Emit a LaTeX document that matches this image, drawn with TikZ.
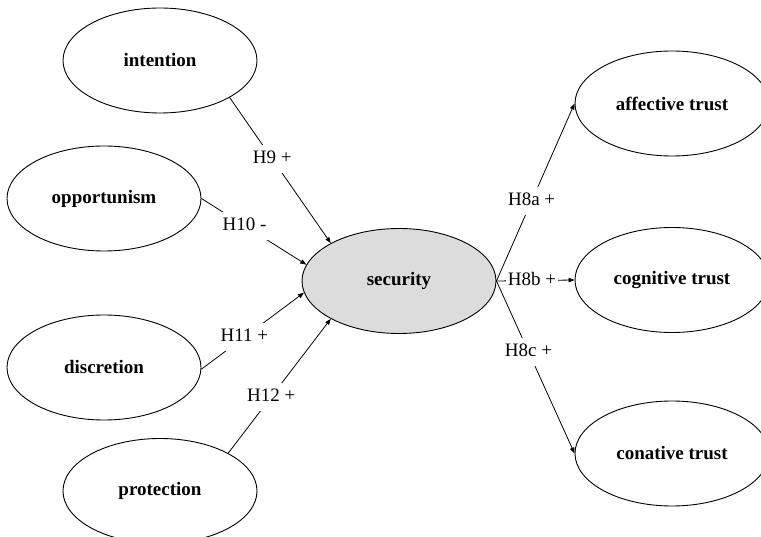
\documentclass[tikz,border=0pt]{standalone}
\usepackage{fontspec}
\setmainfont{Liberation Serif}
\usetikzlibrary{shapes.geometric,arrows.meta}
\definecolor{secgray}{RGB}{220,220,220}
\begin{document}
\begin{tikzpicture}[x=1pt,y=-1pt,
  construct/.style={ellipse,draw,line width=0.9pt,minimum width=194pt,minimum height=105pt,
    inner sep=0pt,font=\fontsize{19}{22}\selectfont\bfseries},
  hyp/.style={fill=white,inner xsep=2pt,inner ysep=5pt,text height=13.5pt,text depth=4.5pt,
    font=\fontsize{19}{22}\selectfont},
  path/.style={line width=0.8pt,-{Triangle[length=6pt,width=4.5pt]}}]
\useasboundingbox (0,0) rectangle (761,537);
\clip (0,0) rectangle (761,537);

% antecedents of security
\node[construct] (intention)   at (160,60.5)  {intention};
\node[construct] (opportunism) at (104,198.5) {opportunism};
\node[construct] (discretion)  at (104,367.5) {discretion};
\node[construct] (protection)  at (160,491)   {protection};

% central construct
\node[construct,fill=secgray] (security) at (399,281) {security};

% trust dimensions
\node[construct] (affective) at (672,103.5) {affective trust};
\node[construct] (cognitive) at (672,280)   {cognitive trust};
\node[construct] (conative)  at (672,453.5) {conative trust};

% hypothesised paths
\draw[path] (intention.-28.2)  -- node[hyp,pos=0.42]  {H9 +}  (security.151.8);
\draw[path] (opportunism.0)    -- node[hyp,pos=0.41]  {H10 -} (security.170.3);
\draw[path] (discretion.-1.5)  -- node[hyp,pos=0.42]  {H11 +} (security.-173.4);
\draw[path] (protection.29.2)  -- node[hyp,pos=0.42]  {H12 +} (security.-151.2);

\draw[path] (security.east) -- node[hyp,pos=0.45]  {H8a +} (affective.west);
\draw[path] (security.east) -- node[hyp,pos=0.456] {H8b +} (cognitive.west);
\draw[path] (security.east) -- node[hyp,pos=0.41]  {H8c +} (conative.west);
\end{tikzpicture}
\end{document}
